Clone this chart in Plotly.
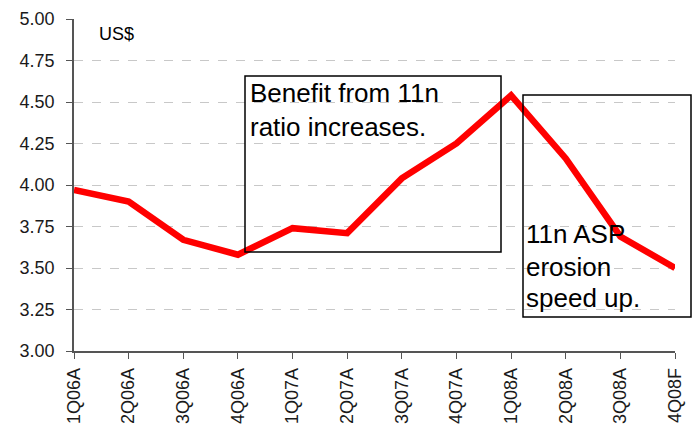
import plotly.graph_objects as go

quarters = ["1Q06A", "2Q06A", "3Q06A", "4Q06A", "1Q07A", "2Q07A",
            "3Q07A", "4Q07A", "1Q08A", "2Q08A", "3Q08A", "4Q08F"]
asp = [3.97, 3.90, 3.67, 3.58, 3.74, 3.71, 4.04, 4.25, 4.54, 4.16, 3.69, 3.50]
y_ticks = [3.00, 3.25, 3.50, 3.75, 4.00, 4.25, 4.50, 4.75, 5.00]

W, H = 699, 426
L, R, T, B = 74, 24, 19, 75
pw, ph = W - L - R, H - T - B

def px(x):
    return (x - L) / pw

def py(y):
    return (H - B - y) / ph

FONT = "Liberation Sans, Arial, sans-serif"

fig = go.Figure()
fig.add_trace(go.Scatter(
    x=list(range(len(quarters))), y=asp, mode="lines",
    line=dict(color="#FF0000", width=6.5), hoverinfo="skip", showlegend=False,
    cliponaxis=False,
))

shapes = [
    dict(type="rect", xref="paper", yref="paper",
         x0=px(245), x1=px(501), y0=py(252), y1=py(76),
         line=dict(color="black", width=1.5), fillcolor="rgba(0,0,0,0)", layer="above"),
    dict(type="rect", xref="paper", yref="paper",
         x0=px(523), x1=px(691), y0=py(317), y1=py(95),
         line=dict(color="black", width=1.5), fillcolor="rgba(0,0,0,0)", layer="above"),
]

annotations = []
def label(text, x, y, size):
    annotations.append(dict(text=text, xref="paper", yref="paper",
                            x=px(x), y=py(y), xanchor="left", yanchor="middle",
                            showarrow=False, font=dict(family=FONT, size=size, color="black")))

label("US$", 97, 34, 18)
label("Benefit from 11n", 248, 93, 26)
label("ratio increases.", 248, 126.5, 26)
label("11n ASP", 524, 233.5, 26)
label("erosion", 524, 266.5, 26)
label("speed up.", 524, 298, 26)

fig.update_layout(
    width=W, height=H, autosize=False,
    margin=dict(l=L, r=R, t=T, b=B, autoexpand=False),
    paper_bgcolor="white", plot_bgcolor="white",
    font=dict(family=FONT, size=18, color="#1a1a1a"),
    shapes=shapes, annotations=annotations,
    xaxis=dict(
        range=[0, len(quarters) - 1], automargin=False,
        tickmode="array", tickvals=list(range(len(quarters))), ticktext=quarters,
        tickangle=-90, ticks="outside", ticklen=6, tickcolor="#555555",
        showline=True, linecolor="#555555", linewidth=1.5,
        showgrid=False, zeroline=False, tickfont=dict(size=18),
        ticklabelstandoff=2,
    ),
    yaxis=dict(
        range=[3.0, 5.0], tickvals=y_ticks, tickformat=".2f", automargin=False,
        ticks="outside", ticklen=6, tickcolor="#555555",
        showline=True, linecolor="#555555", linewidth=1.5,
        showgrid=True, gridcolor="#C8C8C8", griddash="dash", gridwidth=1,
        zeroline=False, tickfont=dict(size=18), ticklabelstandoff=8,
    ),
)

fig.write_html("out.html", config={"displayModeBar": False},
               post_script="document.body.style.margin='0';")
